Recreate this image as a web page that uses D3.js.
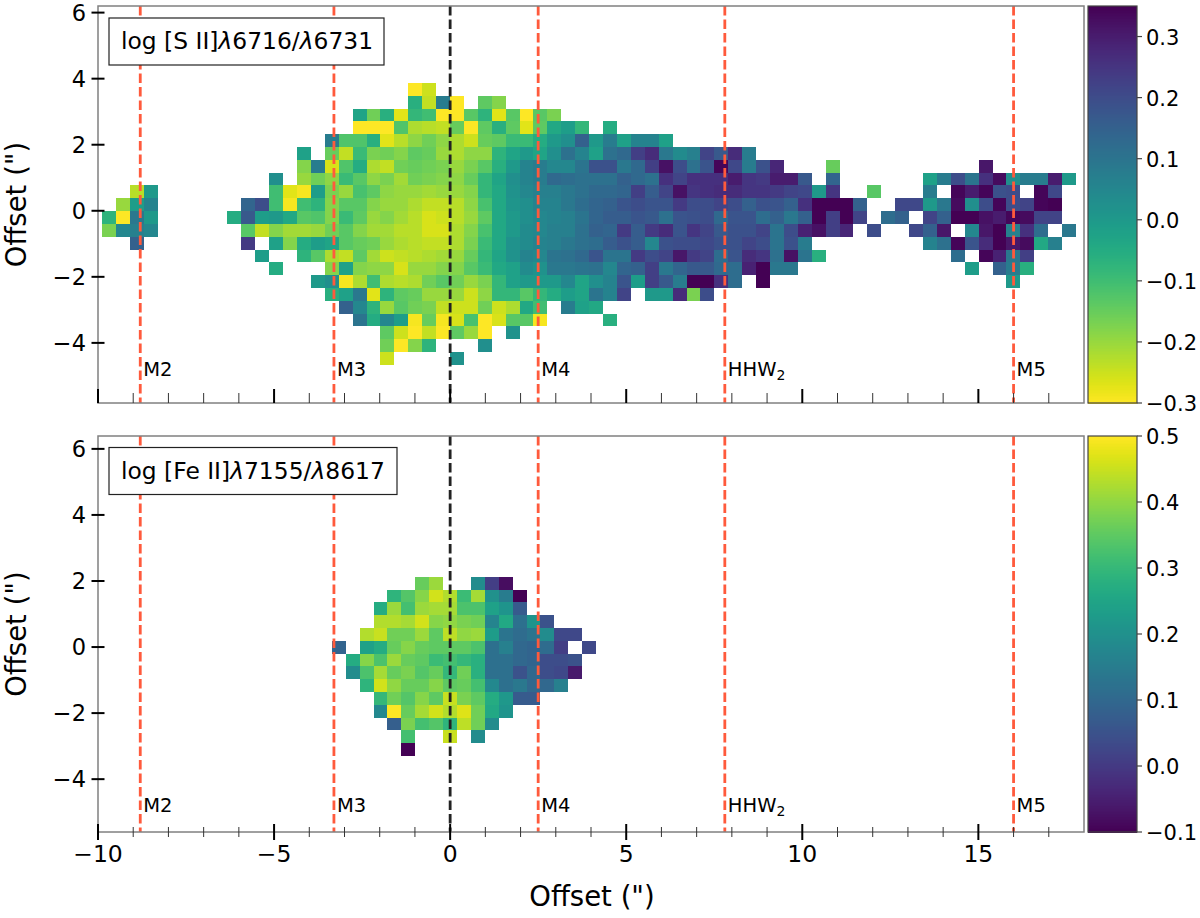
<!DOCTYPE html>
<html>
<head>
<meta charset="utf-8">
<script src="https://cdn.jsdelivr.net/npm/d3@7"></script>
<style>
  html, body { margin: 0; padding: 0; background: #fff; }
  svg { display: block; }
  text { font-family: "DejaVu Sans", sans-serif; fill: #000; }
  rect.cell, rect.bar { shape-rendering: crispEdges; }
</style>
</head>
<body>
<svg id="chart" width="1200" height="918"></svg>
<script>
// each row is [first column, values...], null is an empty cell. rows run top to bottom
var siiRows = [
  [22, -.3, -.25],
  [22, -.06, -.24, .08, -.3, null, -.14, -.18],
  [18, -.03, -.16, -.06, -.27, -.08, -.1, -.3, -.3, -.13, -.07, -.27, -.13, -.3, -.13, -.17],
  [18, -.3, -.3, -.3, -.12, -.22, -.23, -.24, -.15, -.3, -.14, -.06, -.14, -.27, -.14, -.04, -.01, -.08, null, -.05],
  [16, .08, -.12, -.12, -.06, -.27, -.23, -.19, -.16, -.19, -.22, -.25, -.15, -.14, -.09, -.09, -.05, 0, .03, .15, 0, .08, -.02, .06, .06, -.02],
  [14, -.02, null, -.15, -.24, -.09, -.17, -.16, -.18, -.14, -.15, -.2, -.22, -.19, -.19, -.07, -.03, 0, -.03, .03, .11, .06, -.02, .11, .13, .23, .27, .09, .04, .07, .22, .17, .27, .08],
  [14, -.18, .08, -.26, -.12, -.05, -.22, -.24, -.16, -.15, -.16, -.17, -.2, -.17, -.13, -.06, 0, .06, .08, .05, .05, .1, .19, .19, .09, .13, .23, .32, .2, .11, .18, .34, .21, .08, .19, .28, null, null, null, -.15, null, null, null, null, null, null, null, null, null, null, .31],
  [12, .03, null, -.2, -.16, -.19, -.09, -.13, -.19, -.17, -.21, -.16, -.17, -.18, -.19, -.15, -.08, -.03, .03, .06, .08, .13, .12, .11, .11, .11, .15, .13, .11, .26, .22, .26, .26, .26, .3, .25, .24, .3, .3, .17, null, .14, null, null, null, null, null, null, -.02, .08, .2, .1, .26, .33, .03, .08, .08, .3, 0],
  [2, -.23, 0, null, null, null, null, null, null, null, null, -.1, -.27, -.29, -.01, -.17, -.2, -.11, -.14, -.19, -.2, -.2, -.21, -.2, -.2, -.18, -.08, -.04, .02, .05, .07, .07, .09, .11, .13, .13, .14, .23, .16, .22, .32, .25, .26, .27, .27, .25, .25, .24, .22, .21, 0, .25, null, null, -.13, null, null, null, .08, null, .34, .3, .34, .19, .2, null, .34, .21],
  [1, -.2, -.01, .06, null, null, null, null, null, null, .14, .2, -.1, -.29, -.1, -.07, -.18, -.13, -.13, -.18, -.2, -.2, -.22, -.24, -.24, -.23, -.19, -.11, -.04, .01, .03, .06, .06, .09, .12, .14, .15, .18, .2, .18, .18, .24, .2, .2, .22, .2, .15, .19, .18, .15, .26, .35, .35, .35, .15, null, null, .21, .21, 0, .09, .33, .03, .2, .34, .2, .22, .34, .35],
  [0, -.07, -.3, .09, 0, null, null, null, null, null, -.05, .17, -.01, 0, -.04, -.13, -.12, -.18, -.09, -.14, -.2, -.18, -.21, -.23, -.26, -.25, -.23, -.2, -.14, -.04, 0, .03, .05, .06, .07, .1, .14, .16, .16, .18, .17, .11, .18, .19, .2, .13, .18, .18, .12, .15, .09, .15, .35, .23, .35, .22, null, .12, .15, null, .22, .15, .35, .35, .32, .3, .34, .33, .22, .22],
  [0, -.17, .05, .07, .05, null, null, null, null, null, null, -.13, -.24, -.18, -.21, -.21, -.2, -.16, -.13, -.18, -.21, -.21, -.23, -.23, -.26, -.26, -.22, -.18, -.11, -.04, 0, .04, .05, .07, .07, .11, .15, .14, .24, .16, .24, .27, .18, .25, .22, .17, .19, .19, .22, .1, .2, .29, .32, .23, .28, null, .2, null, null, .21, .15, .31, null, .05, .31, .35, .07, .26, .12, null, .09],
  [2, .15, null, null, null, null, null, null, null, .24, null, -.02, -.18, -.05, -.01, -.03, -.13, -.15, -.16, -.2, -.22, -.23, -.24, -.24, -.22, -.17, -.09, -.04, .02, .04, .06, .07, .09, .11, .12, .16, .19, .16, .05, .19, .2, .2, .21, .19, .19, .22, .2, .1, .19, .08, null, null, null, null, null, null, null, null, .06, .11, .34, .18, .27, .35, .31, .33, -.04, .07],
  [11, -.01, null, null, -.07, -.13, -.22, -.24, -.14, -.21, -.25, -.24, -.23, -.22, -.21, -.2, -.15, -.08, -.03, .02, .06, .05, .1, .11, .13, .18, .1, .1, .24, .2, .22, .31, .24, .22, .12, .18, .27, .25, .11, .32, .1, -.06, null, null, null, null, null, null, null, null, null, .12, null, .34, .29, .09, .23],
  [12, -.05, null, null, null, -.18, -.02, -.18, -.19, -.19, -.26, -.2, -.2, -.18, -.18, -.13, -.09, -.04, -.02, .04, .02, .09, .09, .1, .11, .05, .14, .15, .23, .09, .14, .17, .17, .13, .12, .29, .35, .09, .09, null, null, null, null, null, null, null, null, null, null, null, null, -.01, null, .15, .08, -.06],
  [15, 0, .03, -.29, -.22, -.1, -.22, -.23, -.22, -.16, -.13, -.16, -.2, -.17, -.08, -.02, 0, 0, 0, .05, -.03, .03, .06, .18, -.01, .23, .17, .08, .35, .35, .26, .12, null, .35, null, null, null, null, null, null, null, null, null, null, null, null, null, null, null, null, null, 0],
  [16, -.06, -.02, .09, -.27, -.07, -.14, -.15, -.2, -.2, -.2, -.25, -.19, -.08, -.08, -.13, -.08, -.05, -.01, -.03, .1, .06, .22, null, 0, 0, .27, -.17, .2],
  [17, .15, .05, -.07, -.2, -.13, -.16, -.17, -.24, -.25, -.25, -.16, -.25, -.22, -.04, -.1, null, .08, -.02, -.04],
  [18, .1, -.05, .05, -.01, -.29, -.15, -.29, -.26, -.11, -.3, -.26, -.13, -.13, -.29, null, null, null, null, -.06],
  [20, -.14, -.25, -.3, -.24, -.3, -.14, -.2, -.3, null, .02],
  [20, -.16, -.3, -.18, -.07, null, null, null, .03],
  [20, -.25, null, null, null, null, .02]
];
var feiiRows = [
  [6, .36, .41, null, null, .19, .01, -.08],
  [4, .29, .34, .39, .46, .43, .31, .42, .2, .15, -.1],
  [3, .27, .41, .32, .41, .42, .42, .33, .33, .24, .21, .07],
  [3, .43, .43, .42, .46, .39, .4, .38, .37, .17, .26, .12, .21, .05],
  [2, .43, .45, .37, .37, .41, .35, .44, .4, .41, .23, .13, .11, .13, .19, .03, .03],
  [0, .09, null, .24, .27, .36, .39, .36, .35, .35, .35, .33, .12, .16, .1, .09, .11, .01, null, .03],
  [1, .27, .39, .33, .41, .36, .35, .31, .32, .3, .28, .12, .12, .1, .09, .04, .04, .05],
  [1, .19, .33, .42, .36, .38, .34, .36, .3, .37, .28, .12, .12, .05, .1, .04, .03, -.06],
  [2, .29, .46, .4, .36, .36, .39, .35, .36, .32, .18, .12, .14, .1, .1, .16],
  [3, .3, .37, .34, .39, .35, .45, .38, .35, .27, .22, .07, .07],
  [3, .18, .5, .36, .42, .46, .43, .47, .37, .26, .21],
  [4, .08, .38, .32, .34, .29, .44, .37, .19],
  [5, .32, null, null, .45, null, .19],
  [5, -.1]
];

var markerNames = ["M2", "M3", "M4", "HHW", "M5"];
var markerOffsets = [-8.8, -3.3, 2.5, 7.8, 16];
var xMajorTicks = [-10, -5, 0, 5, 10, 15];
var xMinorTicks = [-9, -8, -7, -6, -4, -3, -2, -1, 1, 2, 3, 4, 6, 7, 8, 9, 11, 12, 13, 14, 16, 17];
var yTicks = [-4, -2, 0, 2, 4, 6];
var siiBarTicks = [-0.3, -0.2, -0.1, 0, 0.1, 0.2, 0.3];
var feiiBarTicks = [-0.1, 0, 0.1, 0.2, 0.3, 0.4, 0.5];

var RED = "#ff5a3c", SPINE = "#808080";
var svg = d3.select("#chart");
var minus = function (v, digits) { return d3.format(digits)(v).replace("-", "\u2212"); };

// grid of the map in offset units, cells are not square
var panels = [
  { rows: siiRows, top: 6, bottom: 403, yDomain: [-5.82, 6.2], x0: -9.878, y0: 3.87, dy: 0.388,
    colorDomain: [0.35, -0.3], barDomain: [-0.3, 0.35], barTicks: siiBarTicks,
    title: ["log [S II]", "6716/", "6731"], box: [109, 18, 275, 47], labelY: 376, showX: false },
  { rows: feiiRows, top: 436, bottom: 832, yDomain: [-5.6, 6.39], x0: -3.36, y0: 2.13, dy: 0.388,
    colorDomain: [-0.1, 0.5], barDomain: [-0.1, 0.5], barTicks: feiiBarTicks,
    title: ["log [Fe II]", "7155/", "8617"], box: [109, 447.5, 288, 47], labelY: 812, showX: true }
];

var x = d3.scaleLinear().domain([-10, 18]).range([98, 1084]);
var dx = 0.395;

panels.forEach(function (p) {
  var y = d3.scaleLinear().domain(p.yDomain).range([p.bottom, p.top]);
  var color = d3.scaleSequential(d3.interpolateViridis).domain(p.colorDomain);
  var g = svg.append("g");

  // flatten the rows to cells
  var cells = [];
  p.rows.forEach(function (row, r) {
    row.slice(1).forEach(function (v, i) {
      if (v !== null) cells.push({ c: row[0] + i, r: r, v: v });
    });
  });

  g.selectAll("rect.cell").data(cells).enter().append("rect")
    .attr("class", "cell")
    .attr("x", function (d) { return x(p.x0 + d.c * dx); })
    .attr("y", function (d) { return y(p.y0 - d.r * p.dy); })
    .attr("width", x(dx) - x(0))
    .attr("height", y(0) - y(p.dy))
    .attr("fill", function (d) { return color(d.v); });

  // vertical markers
  g.selectAll("line.marker").data(markerOffsets).enter().append("line")
    .attr("class", "marker")
    .attr("x1", function (d) { return x(d); }).attr("x2", function (d) { return x(d); })
    .attr("y1", p.top).attr("y2", p.bottom)
    .attr("stroke", RED).attr("stroke-width", 2.8).attr("stroke-dasharray", "9.5,4");
  g.append("line")
    .attr("x1", x(0)).attr("x2", x(0)).attr("y1", p.top).attr("y2", p.bottom)
    .attr("stroke", "#222").attr("stroke-width", 2.8).attr("stroke-dasharray", "9.5,4");

  var labels = g.selectAll("text.marker").data(markerNames).enter().append("text")
    .attr("class", "marker")
    .attr("x", function (d, i) { return x(markerOffsets[i]) + 3; })
    .attr("y", p.labelY)
    .attr("font-size", 19.5)
    .text(function (d) { return d; });
  labels.filter(function (d) { return d === "HHW"; }).append("tspan")
    .attr("dy", 4).attr("font-size", 14).text("2");

  // spines
  g.append("rect")
    .attr("x", x.range()[0]).attr("y", p.top)
    .attr("width", x.range()[1] - x.range()[0]).attr("height", p.bottom - p.top)
    .attr("fill", "none").attr("stroke", SPINE).attr("stroke-width", 1.5);

  // x ticks, inward only on the upper panel, across the spine on the lower one
  var below = p.showX ? 6 : 0;
  g.selectAll("line.xmajor").data(xMajorTicks).enter().append("line")
    .attr("class", "xmajor")
    .attr("x1", function (d) { return x(d); }).attr("x2", function (d) { return x(d); })
    .attr("y1", p.bottom - (p.showX ? 8 : 14)).attr("y2", p.bottom + below + (p.showX ? 2 : 0))
    .attr("stroke", "#000").attr("stroke-width", 2);
  g.selectAll("line.xminor").data(xMinorTicks).enter().append("line")
    .attr("class", "xminor")
    .attr("x1", function (d) { return x(d); }).attr("x2", function (d) { return x(d); })
    .attr("y1", p.bottom - (p.showX ? 5 : 10)).attr("y2", p.bottom + (p.showX ? 5 : 0))
    .attr("stroke", "#333").attr("stroke-width", 1);

  if (p.showX) {
    g.selectAll("text.xtick").data(xMajorTicks).enter().append("text")
      .attr("class", "xtick")
      .attr("x", function (d) { return x(d); })
      .attr("y", 862)
      .attr("text-anchor", "middle")
      .attr("font-size", 23.5)
      .text(function (d) { return minus(d, "d"); });
  }

  // y axis
  g.selectAll("line.ytick").data(yTicks).enter().append("line")
    .attr("class", "ytick")
    .attr("x1", x.range()[0] - 6.5).attr("x2", x.range()[0] + 6.5)
    .attr("y1", function (d) { return y(d); }).attr("y2", function (d) { return y(d); })
    .attr("stroke", "#000").attr("stroke-width", 2);
  g.selectAll("text.ytick").data(yTicks).enter().append("text")
    .attr("class", "ytick")
    .attr("x", 86)
    .attr("y", function (d) { return y(d) + 8; })
    .attr("text-anchor", "end")
    .attr("font-size", 22.5)
    .text(function (d) { return minus(d, "d"); });
  g.append("text")
    .attr("transform", "translate(26," + (p.top + p.bottom) / 2 + ") rotate(-90)")
    .attr("text-anchor", "middle")
    .attr("font-size", 27.5)
    .text("Offset (\")");

  // label box
  g.append("rect")
    .attr("x", p.box[0]).attr("y", p.box[1]).attr("width", p.box[2]).attr("height", p.box[3])
    .attr("fill", "#fff").attr("stroke", "#222").attr("stroke-width", 1.2);
  var title = g.append("text")
    .attr("x", p.box[0] + 12).attr("y", p.box[1] + 31)
    .attr("font-size", 23.4);
  title.append("tspan").text(p.title[0]);
  title.append("tspan").attr("font-style", "italic").text("\u03bb");
  title.append("tspan").text(p.title[1]);
  title.append("tspan").attr("font-style", "italic").text("\u03bb");
  title.append("tspan").text(p.title[2]);

  // colour bar
  var barX = 1088, barW = 49;
  var barY = d3.scaleLinear().domain(p.barDomain).range([p.bottom, p.top]);
  var steps = d3.range(256).map(function (i) {
    return p.barDomain[0] + (p.barDomain[1] - p.barDomain[0]) * i / 256;
  });
  var stepH = (p.bottom - p.top) / 256;
  g.selectAll("rect.bar").data(steps).enter().append("rect")
    .attr("class", "bar")
    .attr("x", barX).attr("width", barW)
    .attr("y", function (d) { return barY(d) - stepH - 0.5; })
    .attr("height", stepH + 1)
    .attr("fill", function (d) { return color(d + (p.barDomain[1] - p.barDomain[0]) / 512); });
  g.append("rect")
    .attr("x", barX).attr("y", p.top).attr("width", barW).attr("height", p.bottom - p.top)
    .attr("fill", "none").attr("stroke", "#444").attr("stroke-width", 1.2);
  g.selectAll("line.bartick").data(p.barTicks).enter().append("line")
    .attr("class", "bartick")
    .attr("x1", barX + barW).attr("x2", barX + barW + 5)
    .attr("y1", function (d) { return barY(d); }).attr("y2", function (d) { return barY(d); })
    .attr("stroke", "#444").attr("stroke-width", 1.2);
  g.selectAll("text.bartick").data(p.barTicks).enter().append("text")
    .attr("class", "bartick")
    .attr("x", barX + barW + 9)
    .attr("y", function (d) { return barY(d) + 8; })
    .attr("font-size", 21)
    .text(function (d) { return minus(d, ".1f"); });
});

svg.append("text")
  .attr("x", 592).attr("y", 906)
  .attr("text-anchor", "middle")
  .attr("font-size", 27.5)
  .text("Offset (\")");
</script>
</body>
</html>
